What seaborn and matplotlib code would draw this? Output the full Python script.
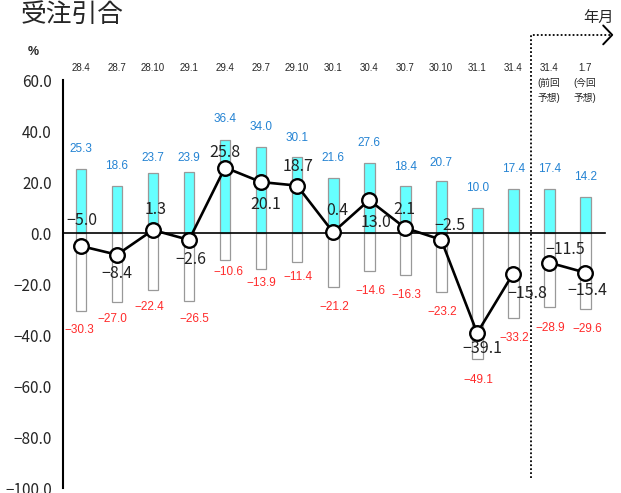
import numpy as np
import pandas as pd
import matplotlib
matplotlib.use("Agg")
import matplotlib.pyplot as plt
import matplotlib.transforms as mtrans
import seaborn as sns

# ---- data -------------------------------------------------------------
periods = ["28.4", "28.7", "28.10", "29.1", "29.4", "29.7", "29.10",
           "30.1", "30.4", "30.7", "30.10", "31.1", "31.4",
           "31.4\n(前回\n 予想)", "1.7\n(今回\n 予想)"]
increase = [25.3, 18.6, 23.7, 23.9, 36.4, 34.0, 30.1,
            21.6, 27.6, 18.4, 20.7, 10.0, 17.4, 17.4, 14.2]
decrease = [-30.3, -27.0, -22.4, -26.5, -10.6, -13.9, -11.4,
            -21.2, -14.6, -16.3, -23.2, -49.1, -33.2, -28.9, -29.6]
di = [-5.0, -8.4, 1.3, -2.6, 25.8, 20.1, 18.7,
      0.4, 13.0, 2.1, -2.5, -39.1, -15.8, -11.5, -15.4]
n_actual = 13  # the last two columns are forecasts

yticks = np.arange(-100, 61, 20)

# label placement (pixels: dx, dy relative to the mark)
di_offsets = [(1, 26), (0, -19), (3, 20), (2, -20), (0, 15), (5, -22), (1, 19),
              (4, 22), (7, -22), (-1, 18), (9, 14), (5, -15), (14, -20),
              (16, 13), (2, -18)]
inc_offsets = [20, 20, 15, 14, 21, 20, 19, 20, 20, 19, 18, 20, 20, 20, 20]
dec_offsets = [(-2, 19), (-5, 17), (-4, 17), (5, 18), (3, 12), (0, 14), (1, 15),
               (1, 20), (1, 20), (1, 20), (1, 20), (1, 21), (1, 20), (1, 21), (2, 20)]

df = pd.DataFrame({"period": periods, "increase": increase,
                   "decrease": decrease, "di": di})

# ---- style ------------------------------------------------------------
sns.set_style("white")
plt.rcParams["font.family"] = ["Noto Sans CJK JP", "DejaVu Sans"]
LATIN = ["Liberation Sans", "Noto Sans CJK JP"]
PX = 0.72  # points per pixel at 100 dpi

fig = plt.figure(figsize=(6.21, 4.93), dpi=100)
ax = fig.add_axes([63 / 621, 4.7 / 493, 542 / 621, 408 / 493])

sns.barplot(data=df, x="period", y="increase", color="#66FFFF", saturation=1,
            edgecolor="#999999", linewidth=0.9, width=0.3, ax=ax, zorder=2)
sns.barplot(data=df, x="period", y="decrease", color="white", saturation=1,
            edgecolor="#999999", linewidth=0.9, width=0.3, ax=ax, zorder=2)

pos = np.arange(len(periods))
line_kw = dict(color="black", lw=1.9, marker="o", ms=10.5, mfc="white",
               mec="black", mew=1.7, zorder=4, clip_on=False)
ax.plot(pos[:n_actual], di[:n_actual], **line_kw)
ax.plot(pos[n_actual:], di[n_actual:], **line_kw)

# ---- axes -------------------------------------------------------------
ax.set_xlim(-0.5, 14.55)
ax.set_ylim(-100, 60)
ax.set_xlabel("")
ax.set_ylabel("")
for s in ("top", "right"):
    ax.spines[s].set_visible(False)
ax.spines["left"].set_linewidth(1.5)
ax.spines["left"].set_color("black")
ax.spines["bottom"].set_position(("data", 0))
ax.spines["bottom"].set_linewidth(1.2)
ax.spines["bottom"].set_color("black")
ax.spines["bottom"].set_zorder(3)

ax.set_yticks(yticks)
ax.set_yticklabels([f"{v:.1f}".replace("-", "−") for v in yticks])
ax.set_yticks(np.arange(-90, 60, 20), minor=True)
ax.tick_params(axis="y", which="both", direction="in", length=4, width=1,
               color="black", labelsize=11, pad=8)
ax.set_xticks([])
ax.set_xticks(np.arange(0.5, 15, 1), minor=True)
ax.tick_params(axis="x", which="minor", direction="in", length=3, width=0.9,
               color="#555555")
ax.tick_params(axis="x", which="major", length=0, labelbottom=False)

# ---- value labels -----------------------------------------------------
for i, v in enumerate(increase):
    ax.annotate(f"{v:.1f}", (i, v), xytext=(0, inc_offsets[i] * PX),
                textcoords="offset points", ha="center", va="center",
                fontsize=8.5, color="#2483D3", family=LATIN)
for i, v in enumerate(decrease):
    dx, dy = dec_offsets[i]
    ax.annotate(f"{v:.1f}".replace("-", "−"), (i, v),
                xytext=(dx * PX, -dy * PX), textcoords="offset points",
                ha="center", va="center", fontsize=8.5, color="#FF2A2A",
                family=LATIN)
for i, v in enumerate(di):
    dx, dy = di_offsets[i]
    ax.annotate(f"{v:.1f}".replace("-", "−"), (i, v),
                xytext=(dx * PX, dy * PX), textcoords="offset points",
                ha="center", va="center", fontsize=11.5, color="#222222",
                zorder=5)

# period labels along the top
trans = mtrans.blended_transform_factory(ax.transData, ax.transAxes)
for i, p in enumerate(periods):
    for k, part in enumerate(p.split("\n")):
        ax.text(i, 1 + (12 - 15 * k) / 408, part.strip(), transform=trans,
                ha="center", va="center", fontsize=7, family=LATIN,
                clip_on=False)

# forecast divider with arrow
ax.plot([12.5, 12.5, 14.75], [-96, 77.8, 77.8], color="black", lw=1.3,
        ls=(0, (1, 1.2)), clip_on=False, zorder=3)
ax.plot([14.5, 14.75, 14.5], [81.5, 77.8, 74.1], color="black", lw=1.4,
        clip_on=False)

# titles
fig.text(21 / 621, 1 - 15 / 493, "受注引合", fontsize=18.5, ha="left",
         va="center")
fig.text(33 / 621, 1 - 52 / 493, "%", fontsize=9, fontweight="bold",
         ha="center", va="center", family=LATIN)
fig.text(599 / 621, 1 - 17 / 493, "年月", fontsize=11, ha="center",
         va="center")

fig.savefig("out.png", dpi=100)
